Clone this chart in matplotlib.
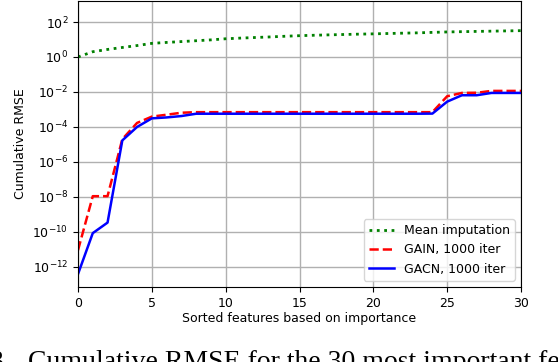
import matplotlib
matplotlib.use("Agg")
import matplotlib.pyplot as plt
from matplotlib.ticker import LogLocator, NullLocator
import numpy as np

features = list(range(31))
mean_imp = [1.0, 2.0, 2.7, 3.5, 4.5, 6.0, 6.8, 7.6, 8.5, 9.5, 11.0, 12.0, 13.0, 14.0,
            15.3, 16.5, 17.5, 18.4, 19.3, 20.2, 21.0, 22.0, 23.0, 24.0, 25.5, 27.0,
            28.0, 29.0, 30.0, 31.0, 32.0]
gain = [9e-12, 1.1e-8, 1.1e-8, 2.0e-5, 1.7e-4, 3.9e-4, 5.0e-4, 6.5e-4, 7e-4, 7e-4,
        7e-4, 7e-4, 7e-4, 7e-4, 7e-4, 7e-4, 7e-4, 7e-4, 7e-4, 7e-4, 7e-4, 7e-4,
        7e-4, 7e-4, 7e-4, 5.7e-3, 8.8e-3, 9e-3, 1.15e-2, 1.15e-2, 1.15e-2]
gacn = [3.9e-13, 8.5e-11, 3.4e-10, 1.7e-5, 1.0e-4, 3.1e-4, 3.5e-4, 4.2e-4, 5.7e-4,
        5.7e-4, 5.7e-4, 5.7e-4, 5.7e-4, 5.7e-4, 5.7e-4, 5.7e-4, 5.7e-4, 5.7e-4,
        5.7e-4, 5.7e-4, 5.7e-4, 5.7e-4, 5.7e-4, 5.7e-4, 5.8e-4, 2.8e-3, 6.5e-3,
        6.5e-3, 8.8e-3, 8.8e-3, 8.8e-3]

fig = plt.figure(figsize=(5.58, 3.62), dpi=100)
ax = fig.add_axes([0.1398, 0.2072, 0.7939, 0.7900])

ax.plot(features, mean_imp, ':', color='green', lw=2, label='Mean imputation')
ax.plot(features, gain, '--', color='red', lw=1.8, label='GAIN, 1000 iter')
ax.plot(features, gacn, '-', color='blue', lw=1.8, label='GACN, 1000 iter')

ax.set_yscale('log')
ax.set_xlim(0, 30)
ax.set_ylim(10**-13.15, 10**3.2)
ax.yaxis.set_major_locator(LogLocator(base=100.0, numticks=20))
ax.yaxis.set_minor_locator(NullLocator())
ax.set_xticks([0, 5, 10, 15, 20, 25, 30])
ax.grid(True, color='#b0b0b0', lw=1)
ax.tick_params(labelsize=9)
ax.set_xlabel('Sorted features based on importance', fontsize=9, labelpad=2)
ax.set_ylabel('Cumulative RMSE', fontsize=9)
ax.legend(loc='lower right', fontsize=9)

cap_y = 1 - 350 / 362
fig.text(-0.018, cap_y, '3.', fontsize=20, family='Liberation Serif', ha='left', va='top')
fig.text(28 / 558, cap_y, 'Cumulative RMSE for the 30 most important features',
         fontsize=20, family='Liberation Serif', ha='left', va='top')

fig.savefig('out.png', dpi=100)
